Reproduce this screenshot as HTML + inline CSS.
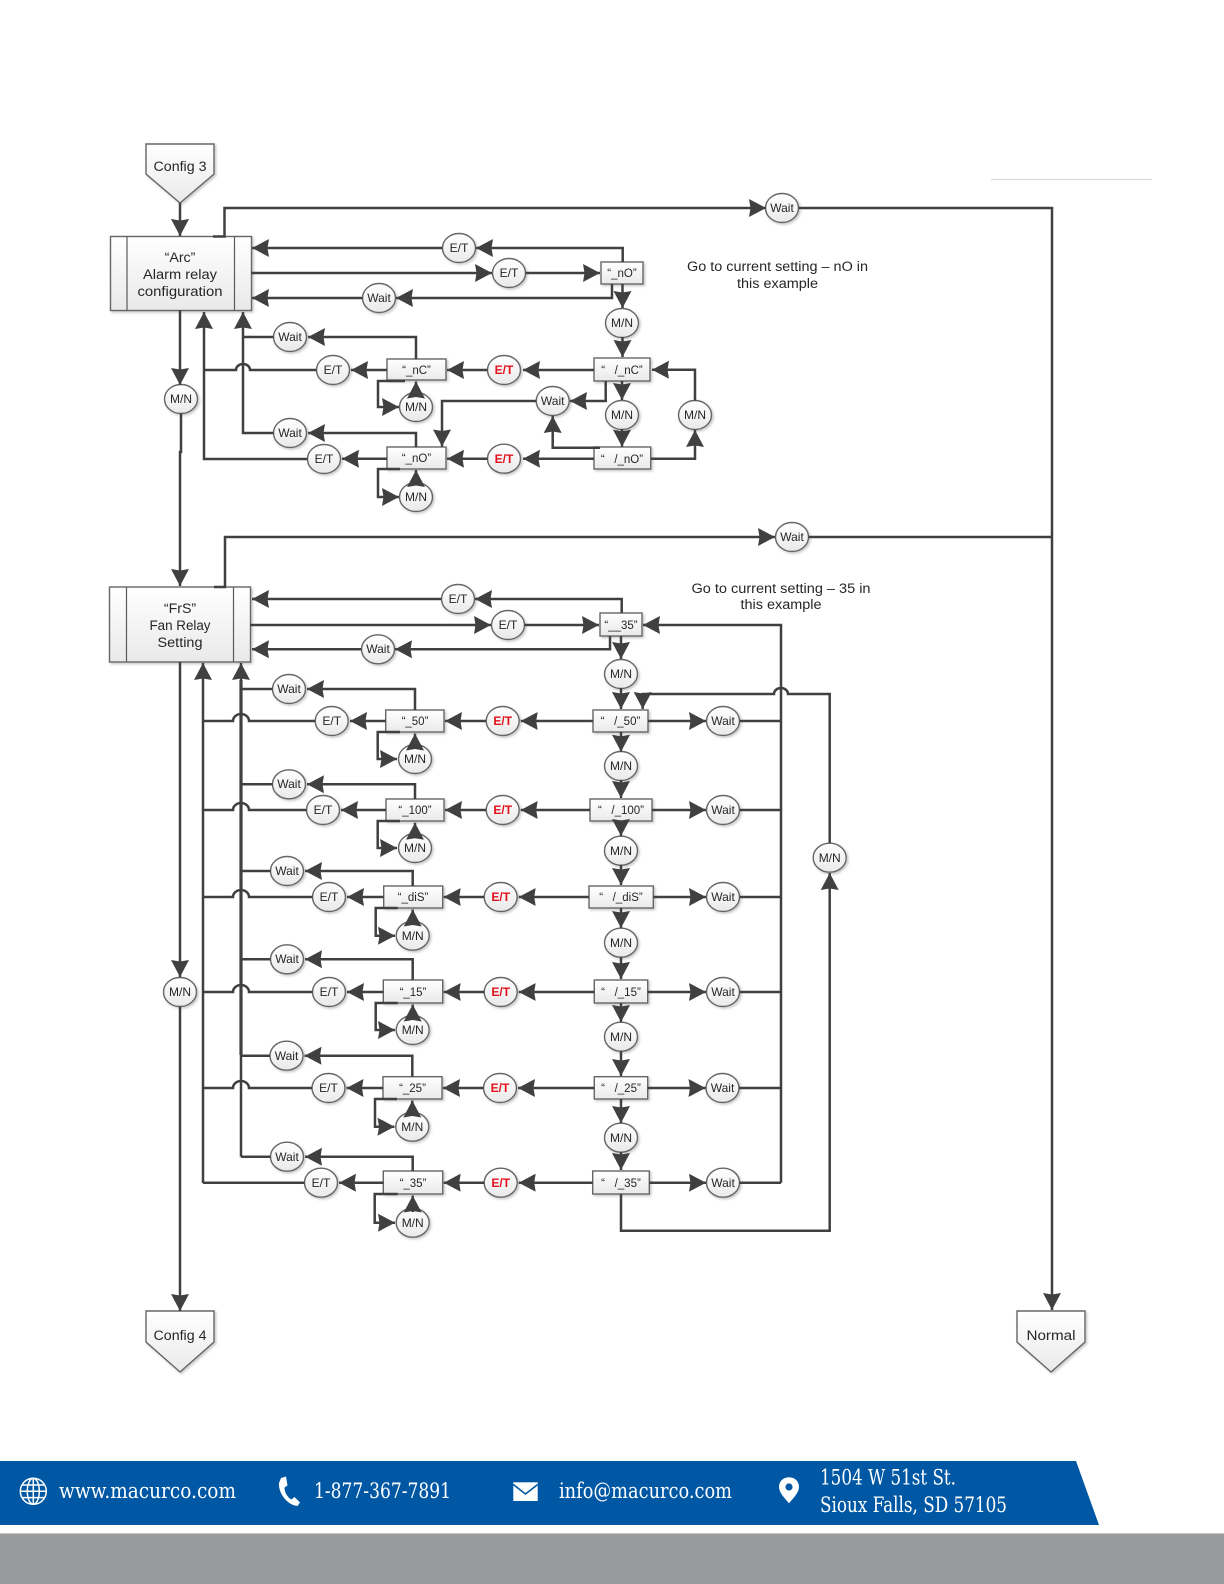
<!DOCTYPE html>
<html lang="en"><head><meta charset="utf-8"><title>Relay configuration flow</title>
<style>
html,body{margin:0;padding:0;background:#fff}
svg{display:block}
text{font-family:"Liberation Sans",sans-serif;text-anchor:middle;fill:#262626;white-space:pre}
.l{fill:none;stroke:#404040;stroke-width:2.5}
.a{marker-end:url(#h)}
.n{fill:url(#g);stroke:#666;stroke-width:1.4}
.s{filter:url(#sh)}
.t{font-size:12px}
.r{font-size:12px;font-weight:bold;fill:#e2111b}
.b{font-size:11.5px}
.m{font-size:14.2px}
.f{font-family:"DejaVu Serif","Liberation Serif",serif;font-size:21px;fill:#fff;text-anchor:start}
</style></head><body>
<svg xmlns="http://www.w3.org/2000/svg" width="1224" height="1584" viewBox="0 0 1224 1584">
<defs>
<linearGradient id="g" x1="0" y1="0" x2="0" y2="1"><stop offset="0" stop-color="#fff"/><stop offset="1" stop-color="#e9e9e9"/></linearGradient>
<filter id="sh" x="-20%" y="-20%" width="150%" height="150%"><feDropShadow dx="1.5" dy="1.5" stdDeviation="1.2" flood-color="#000" flood-opacity=".22"/></filter>
<marker id="h" markerUnits="userSpaceOnUse" markerWidth="18" markerHeight="20" refX="17" refY="9.5" orient="auto"><path d="M0 0.5L17 9.5L0 18.5L1.500 9.5Z" fill="#404040"/></marker>
</defs>
<rect width="1224" height="1584" fill="#fff"/>
<path d="M991 179.5H1152" stroke="#dcdcdc" stroke-width="1.2"/>

<!-- terminals and process boxes -->
<g class="s">
<polygon class="n" points="146,144 214,144 214,174 180,203 146,174"/>
<polygon class="n" points="146,1311 214,1311 214,1342 180,1372 146,1342"/>
<polygon class="n" points="1017,1311 1085,1311 1085,1342 1051,1372 1017,1342"/>
<rect class="n" x="110.5" y="236.5" width="141" height="74"/>
<rect class="n" x="109.5" y="587" width="141" height="75"/>
<rect class="n" x="601" y="262" width="42" height="22"/>
<rect class="n" x="594" y="358" width="56" height="23"/>
<rect class="n" x="594" y="447" width="56.7" height="22"/>
<rect class="n" x="387" y="359" width="59" height="21"/>
<rect class="n" x="387" y="447" width="59" height="22"/>
<rect class="n" x="600" y="613" width="42" height="23"/>
<rect class="n" x="593" y="710" width="55" height="22"/>
<rect class="n" x="590" y="799" width="62" height="22"/>
<rect class="n" x="589" y="886" width="64.3" height="22"/>
<rect class="n" x="594.3" y="980" width="53.4" height="23"/>
<rect class="n" x="594.3" y="1076.7" width="53.4" height="22.3"/>
<rect class="n" x="592.7" y="1171" width="56.6" height="23"/>
<rect class="n" x="385.7" y="710" width="58.3" height="22"/>
<rect class="n" x="386" y="799" width="58" height="22"/>
<rect class="n" x="383.7" y="886" width="59" height="22"/>
<rect class="n" x="383.3" y="980" width="59.4" height="23"/>
<rect class="n" x="383" y="1076.7" width="59" height="22.3"/>
<rect class="n" x="383.3" y="1171" width="59.4" height="23"/>
</g>
<path d="M127 236.5V310.5M234.5 236.5V310.5M126.5 587V662M233.5 587V662" stroke="#5a5a5a" stroke-width="1.2"/>

<!-- circles -->
<g class="s">
<ellipse class="n" cx="782" cy="208" rx="16.5" ry="14.5"/>
<ellipse class="n" cx="459" cy="248" rx="16.5" ry="14.5"/>
<ellipse class="n" cx="509" cy="273" rx="16.5" ry="14.5"/>
<ellipse class="n" cx="379" cy="298" rx="16.5" ry="14.5"/>
<ellipse class="n" cx="622" cy="323" rx="16.5" ry="14.5"/>
<ellipse class="n" cx="290" cy="337" rx="16.5" ry="14.5"/>
<ellipse class="n" cx="333" cy="370" rx="16.5" ry="14.5"/>
<ellipse class="n" cx="504" cy="370" rx="16.5" ry="14.5"/>
<ellipse class="n" cx="181" cy="399" rx="16.5" ry="14.5"/>
<ellipse class="n" cx="552.7" cy="401" rx="16.5" ry="14.5"/>
<ellipse class="n" cx="416" cy="407" rx="16.5" ry="14.5"/>
<ellipse class="n" cx="622" cy="415" rx="16.5" ry="14.5"/>
<ellipse class="n" cx="695" cy="415" rx="16.5" ry="14.5"/>
<ellipse class="n" cx="290" cy="433" rx="16.5" ry="14.5"/>
<ellipse class="n" cx="324" cy="459" rx="16.5" ry="14.5"/>
<ellipse class="n" cx="504" cy="458.7" rx="16.5" ry="14.5"/>
<ellipse class="n" cx="416" cy="497" rx="16.5" ry="14.5"/>
<ellipse class="n" cx="792" cy="537" rx="16.5" ry="14.5"/>
<ellipse class="n" cx="458" cy="599" rx="16.5" ry="14.5"/>
<ellipse class="n" cx="508" cy="625" rx="16.5" ry="14.5"/>
<ellipse class="n" cx="378" cy="649.3" rx="16.5" ry="14.5"/>
<ellipse class="n" cx="621" cy="674" rx="16.5" ry="14.5"/>
<ellipse class="n" cx="289" cy="689" rx="16.5" ry="14.5"/>
<ellipse class="n" cx="331.7" cy="721" rx="16.5" ry="14.5"/>
<ellipse class="n" cx="502.7" cy="721" rx="16.5" ry="14.5"/>
<ellipse class="n" cx="723" cy="721" rx="16.5" ry="14.5"/>
<ellipse class="n" cx="415" cy="759" rx="16.5" ry="14.5"/>
<ellipse class="n" cx="621" cy="766" rx="16.5" ry="14.5"/>
<ellipse class="n" cx="289" cy="784.3" rx="16.5" ry="14.5"/>
<ellipse class="n" cx="323" cy="810" rx="16.5" ry="14.5"/>
<ellipse class="n" cx="502.7" cy="810" rx="16.5" ry="14.5"/>
<ellipse class="n" cx="723" cy="810" rx="16.5" ry="14.5"/>
<ellipse class="n" cx="415" cy="848" rx="16.5" ry="14.5"/>
<ellipse class="n" cx="621" cy="850.7" rx="16.5" ry="14.5"/>
<ellipse class="n" cx="829.7" cy="857.7" rx="16.5" ry="14.5"/>
<ellipse class="n" cx="287" cy="871" rx="16.5" ry="14.5"/>
<ellipse class="n" cx="329" cy="897" rx="16.5" ry="14.5"/>
<ellipse class="n" cx="500.7" cy="897" rx="16.5" ry="14.5"/>
<ellipse class="n" cx="723" cy="897" rx="16.5" ry="14.5"/>
<ellipse class="n" cx="412.7" cy="935.7" rx="16.5" ry="14.5"/>
<ellipse class="n" cx="621" cy="942.7" rx="16.5" ry="14.5"/>
<ellipse class="n" cx="287" cy="959.3" rx="16.5" ry="14.5"/>
<ellipse class="n" cx="180" cy="992" rx="16.5" ry="14.5"/>
<ellipse class="n" cx="329" cy="992" rx="16.5" ry="14.5"/>
<ellipse class="n" cx="500.7" cy="992" rx="16.5" ry="14.5"/>
<ellipse class="n" cx="723" cy="992" rx="16.5" ry="14.5"/>
<ellipse class="n" cx="412.7" cy="1030" rx="16.5" ry="14.5"/>
<ellipse class="n" cx="621" cy="1036.7" rx="16.5" ry="14.5"/>
<ellipse class="n" cx="286.5" cy="1055.7" rx="16.5" ry="14.5"/>
<ellipse class="n" cx="328.5" cy="1088" rx="16.5" ry="14.5"/>
<ellipse class="n" cx="500" cy="1088" rx="16.5" ry="14.5"/>
<ellipse class="n" cx="722.5" cy="1088" rx="16.5" ry="14.5"/>
<ellipse class="n" cx="412.3" cy="1126.7" rx="16.5" ry="14.5"/>
<ellipse class="n" cx="621" cy="1137.7" rx="16.5" ry="14.5"/>
<ellipse class="n" cx="287" cy="1156.7" rx="16.5" ry="14.5"/>
<ellipse class="n" cx="321" cy="1182.7" rx="16.5" ry="14.5"/>
<ellipse class="n" cx="500.7" cy="1182.7" rx="16.5" ry="14.5"/>
<ellipse class="n" cx="723" cy="1182.7" rx="16.5" ry="14.5"/>
<ellipse class="n" cx="412.7" cy="1222.7" rx="16.5" ry="14.5"/>
</g>

<!-- connectors: alarm relay section -->
<path class="l a" d="M180 203V236"/>
<path class="l a" d="M213 236.5H224.5V208H766"/>
<path class="l a" d="M798.5 208H1052V1310"/>
<path class="l a" d="M442.5 248H252"/>
<path class="l a" d="M622.7 262V248H476"/>
<path class="l a" d="M251 273H492"/>
<path class="l a" d="M525.5 273H600"/>
<path class="l a" d="M612 284V298H396"/>
<path class="l a" d="M362.5 298H252"/>
<path class="l a" d="M622.5 284V308"/>
<path class="l a" d="M622.5 337V357"/>
<path class="l a" d="M594 370H523"/>
<path class="l a" d="M487.5 370H447"/>
<path class="l a" d="M387 370H351"/>
<path class="l" d="M316.5 370H250a7 6 0 0 0-14 0H204"/>
<path class="l" d="M273.5 337H243"/>
<path class="l a" d="M273.5 433H243V312"/>
<path class="l a" d="M416 359V337H308"/>
<path class="l a" d="M416 447V433H308"/>
<path class="l a" d="M387 458.7H342"/>
<path class="l a" d="M307.5 459H204V312"/>
<path class="l a" d="M405 381H378V407H399"/>
<path class="l a" d="M416 396V381.5"/>
<path class="l a" d="M400 469H378V497H399"/>
<path class="l a" d="M416 485V470"/>
<path class="l a" d="M180 310V385"/>
<path class="l a" d="M181 413.5V452H180V586"/>
<path class="l a" d="M536.2 401H442V446.5"/>
<path class="l a" d="M605.7 381V401H570"/>
<path class="l a" d="M600 447.7H552.7V416"/>
<path class="l a" d="M622 381V400"/>
<path class="l a" d="M622 429V446.7"/>
<path class="l a" d="M651 458.7H695V430"/>
<path class="l a" d="M695 400.5V369.7H652"/>
<path class="l a" d="M594 458.7H523"/>
<path class="l a" d="M487.5 458.7H447"/>

<!-- connectors: fan relay section -->
<path class="l a" d="M214 587H225V537H775"/>
<path class="l" d="M808.5 537H1052"/>
<path class="l a" d="M441.5 599H252"/>
<path class="l a" d="M621.7 613V599H475"/>
<path class="l a" d="M250 625H491"/>
<path class="l a" d="M524.5 625H599"/>
<path class="l a" d="M610 636V649.3H395"/>
<path class="l a" d="M361.5 649.3H252"/>
<path class="l a" d="M781 1182.7V625H643"/>
<path class="l a" d="M829.7 843V694H788a7 6 0 0 0-14 0H642.7V709"/>
<path class="l a" d="M621 1194V1230.7H829.7V873"/>
<path class="l a" d="M180 662V977"/>
<path class="l a" d="M180 1006.5V1311"/>
<path class="l" d="M304.5 1182.7H203"/>
<path class="l a" d="M203 1183V663"/>
<path class="l a" d="M241 1156.7V663"/>
<path class="l" d="M241 1055V680" style="stroke-width:3.2"/>

<path class="l a" d="M621 636V659"/><path class="l a" d="M621 688V709"/>
<path class="l a" d="M621 732V751.7"/><path class="l a" d="M621 780V798"/>
<path class="l a" d="M621 821V836"/><path class="l a" d="M621 865V885"/>
<path class="l a" d="M621 908V928"/><path class="l a" d="M621 957V979"/>
<path class="l a" d="M621 1003V1022"/><path class="l a" d="M621 1051V1076"/>
<path class="l a" d="M621 1099V1123"/><path class="l a" d="M621 1152V1170"/>

<!-- row 50 -->
<path class="l a" d="M593 721H520.7"/><path class="l a" d="M486.2 721H445"/><path class="l a" d="M385.7 721H350"/>
<path class="l" d="M315.2 721H249a8 7 0 0 0-16 0H203"/>
<path class="l a" d="M415 710V689H307"/><path class="l" d="M272.5 689H241"/>
<path class="l a" d="M400 732H377.7V759H397"/><path class="l a" d="M415 748V733.5"/>
<path class="l a" d="M648 721H706"/><path class="l" d="M739.5 721H781"/>
<!-- row 100 -->
<path class="l a" d="M590 810H520.7"/><path class="l a" d="M486.2 810H445"/><path class="l a" d="M386 810H341"/>
<path class="l" d="M306.5 810H249a8 7 0 0 0-16 0H203"/>
<path class="l a" d="M415 799V784.3H307"/><path class="l" d="M272.5 784.3H241"/>
<path class="l a" d="M400 821H377.7V848H397"/><path class="l a" d="M415 837V822.7"/>
<path class="l a" d="M652 810H706"/><path class="l" d="M739.5 810H781"/>
<!-- row diS -->
<path class="l a" d="M589 897H518.7"/><path class="l a" d="M484.2 897H443.7"/><path class="l a" d="M383.7 897H347"/>
<path class="l" d="M312.5 897H249a8 7 0 0 0-16 0H203"/>
<path class="l a" d="M412.7 886V871H305"/><path class="l" d="M270.5 871H241"/>
<path class="l a" d="M397.7 908H375.7V935.7H395"/><path class="l a" d="M412.7 924V909.5"/>
<path class="l a" d="M653.3 897H706"/><path class="l" d="M739.5 897H781"/>
<!-- row 15 -->
<path class="l a" d="M594.3 992H518.7"/><path class="l a" d="M484.2 992H443.7"/><path class="l a" d="M383.3 992H347"/>
<path class="l" d="M312.5 992H249a8 7 0 0 0-16 0H203"/>
<path class="l a" d="M412.7 980V959.3H305"/><path class="l" d="M270.5 959.3H241"/>
<path class="l a" d="M397.7 1003H375.7V1030H395"/><path class="l a" d="M412.7 1019V1004.5"/>
<path class="l a" d="M647.7 992H706"/><path class="l" d="M739.5 992H781"/>
<!-- row 25 -->
<path class="l a" d="M594.3 1088H518"/><path class="l a" d="M483.5 1088H443"/><path class="l a" d="M383 1088H346.5"/>
<path class="l" d="M312 1088H249a8 7 0 0 0-16 0H203"/>
<path class="l a" d="M412.3 1076.7V1055.7H304.5"/><path class="l" d="M270 1055.7H241"/>
<path class="l a" d="M397 1099H375V1126.7H394.5"/><path class="l a" d="M412.3 1115V1100.5"/>
<path class="l a" d="M647.7 1088H705.5"/><path class="l" d="M739 1088H781"/>
<!-- row 35 -->
<path class="l a" d="M592.7 1182.7H518.7"/><path class="l a" d="M484.2 1182.7H443.7"/><path class="l a" d="M383.3 1182.7H339"/>
<path class="l a" d="M412.7 1171V1156.7H305"/><path class="l" d="M270.5 1156.7H241"/>
<path class="l a" d="M397.7 1194H374.7V1222.7H395"/><path class="l a" d="M412.7 1212V1195.5"/>
<path class="l a" d="M649.3 1182.7H706"/><path class="l" d="M739.5 1182.7H781"/>

<!-- node labels -->
<text class="m" x="180" y="171" textLength="53" lengthAdjust="spacingAndGlyphs">Config 3</text>
<text class="m" x="180" y="1340" textLength="53" lengthAdjust="spacingAndGlyphs">Config 4</text>
<text class="m" x="1051" y="1340" textLength="49" lengthAdjust="spacingAndGlyphs">Normal</text>
<text class="m" x="180" y="262">“Arc”</text>
<text class="m" x="180" y="279" textLength="74" lengthAdjust="spacingAndGlyphs">Alarm relay</text>
<text class="m" x="180" y="296" textLength="85" lengthAdjust="spacingAndGlyphs">configuration</text>
<text class="m" x="180" y="613">“FrS”</text>
<text class="m" x="180" y="630" textLength="61" lengthAdjust="spacingAndGlyphs">Fan Relay</text>
<text class="m" x="180" y="647" textLength="45" lengthAdjust="spacingAndGlyphs">Setting</text>
<text class="m" x="777.5" y="271" textLength="181" lengthAdjust="spacingAndGlyphs">Go to current setting – nO in</text>
<text class="m" x="777.5" y="288" textLength="81" lengthAdjust="spacingAndGlyphs">this example</text>
<text class="m" x="781" y="593" textLength="179" lengthAdjust="spacingAndGlyphs">Go to current setting – 35 in</text>
<text class="m" x="781" y="609" textLength="81" lengthAdjust="spacingAndGlyphs">this example</text>

<text class="b" x="622" y="277">“_nO”</text>
<text class="b" x="622" y="374">“   /_nC”</text>
<text class="b" x="622" y="463">“   /_nO”</text>
<text class="b" x="416.5" y="374">“_nC”</text>
<text class="b" x="416.5" y="462">“_nO”</text>
<text class="b" x="621" y="629">“__35”</text>
<text class="b" x="620.5" y="725">“   /_50”</text>
<text class="b" x="621" y="814">“   /_100”</text>
<text class="b" x="621" y="901">“   /_diS”</text>
<text class="b" x="621" y="996">“   /_15”</text>
<text class="b" x="621" y="1092">“   /_25”</text>
<text class="b" x="621" y="1187">“   /_35”</text>
<text class="b" x="415" y="725">“_50”</text>
<text class="b" x="415" y="814">“_100”</text>
<text class="b" x="413" y="901">“_diS”</text>
<text class="b" x="413" y="996">“_15”</text>
<text class="b" x="412.5" y="1092">“_25”</text>
<text class="b" x="413" y="1187">“_35”</text>

<text class="t" x="782" y="212">Wait</text>
<text class="t" x="459" y="252">E/T</text>
<text class="t" x="509" y="277">E/T</text>
<text class="t" x="379" y="302">Wait</text>
<text class="t" x="622" y="327">M/N</text>
<text class="t" x="290" y="341">Wait</text>
<text class="t" x="333" y="374">E/T</text>
<text class="r" x="504" y="374">E/T</text>
<text class="t" x="181" y="403">M/N</text>
<text class="t" x="552.7" y="405">Wait</text>
<text class="t" x="416" y="411">M/N</text>
<text class="t" x="622" y="419">M/N</text>
<text class="t" x="695" y="419">M/N</text>
<text class="t" x="290" y="437">Wait</text>
<text class="t" x="324" y="463">E/T</text>
<text class="r" x="504" y="463">E/T</text>
<text class="t" x="416" y="501">M/N</text>
<text class="t" x="792" y="541">Wait</text>
<text class="t" x="458" y="603">E/T</text>
<text class="t" x="508" y="629">E/T</text>
<text class="t" x="378" y="653">Wait</text>
<text class="t" x="621" y="678">M/N</text>
<text class="t" x="289" y="693">Wait</text>
<text class="t" x="331.7" y="725">E/T</text>
<text class="r" x="502.7" y="725">E/T</text>
<text class="t" x="723" y="725">Wait</text>
<text class="t" x="415" y="763">M/N</text>
<text class="t" x="621" y="770">M/N</text>
<text class="t" x="289" y="788">Wait</text>
<text class="t" x="323" y="814">E/T</text>
<text class="r" x="502.7" y="814">E/T</text>
<text class="t" x="723" y="814">Wait</text>
<text class="t" x="415" y="852">M/N</text>
<text class="t" x="621" y="855">M/N</text>
<text class="t" x="829.7" y="862">M/N</text>
<text class="t" x="287" y="875">Wait</text>
<text class="t" x="329" y="901">E/T</text>
<text class="r" x="500.7" y="901">E/T</text>
<text class="t" x="723" y="901">Wait</text>
<text class="t" x="412.7" y="940">M/N</text>
<text class="t" x="621" y="947">M/N</text>
<text class="t" x="287" y="963">Wait</text>
<text class="t" x="180" y="996">M/N</text>
<text class="t" x="329" y="996">E/T</text>
<text class="r" x="500.7" y="996">E/T</text>
<text class="t" x="723" y="996">Wait</text>
<text class="t" x="412.7" y="1034">M/N</text>
<text class="t" x="621" y="1041">M/N</text>
<text class="t" x="286.5" y="1060">Wait</text>
<text class="t" x="328.5" y="1092">E/T</text>
<text class="r" x="500" y="1092">E/T</text>
<text class="t" x="722.5" y="1092">Wait</text>
<text class="t" x="412.3" y="1131">M/N</text>
<text class="t" x="621" y="1142">M/N</text>
<text class="t" x="287" y="1161">Wait</text>
<text class="t" x="321" y="1187">E/T</text>
<text class="r" x="500.7" y="1187">E/T</text>
<text class="t" x="723" y="1187">Wait</text>
<text class="t" x="412.7" y="1227">M/N</text>

<!-- footer -->
<polygon points="0,1461 1076,1461 1099,1525 0,1525" fill="#0058a4"/>
<rect x="0" y="1533" width="1224" height="1.5" fill="#c9c9c9"/>
<rect x="0" y="1534" width="1224" height="50" fill="#999a9c"/>
<g fill="none" stroke="#fff" stroke-width="1.5">
<circle cx="33.3" cy="1491.3" r="13"/>
<ellipse cx="33.3" cy="1491.3" rx="6" ry="13"/>
<path d="M33.3 1478.3V1504.3M20.3 1491.3H46.3M22 1485H44.6M22 1497.6H44.6"/>
</g>
<path d="M281 1478l5-1.5 1.5 9-3 2c0 5 3 10 7 12l3-2.5 5.500 5.500-2.500 3.500c-11-1-19.500-14-18.500-23z" fill="#fff"/>
<rect x="513.300" y="1482.300" width="24.400" height="18.700" fill="#fff"/>
<path d="M513.300 1484.500L525.500 1494L537.700 1484.500" fill="none" stroke="#0058a4" stroke-width="1.600"/>
<path d="M789 1477.300c5.800 0 10 4.200 10 9.700 0 5.500-5.500 11-10 16.300-4.500-5.300-10-10.800-10-16.300 0-5.500 4.200-9.700 10-9.700z" fill="#fff"/>
<circle cx="789" cy="1487" r="3.600" fill="#0058a4"/>
<text class="f" x="59" y="1498" textLength="177" lengthAdjust="spacingAndGlyphs">www.macurco.com</text>
<text class="f" x="314" y="1498" textLength="137" lengthAdjust="spacingAndGlyphs">1-877-367-7891</text>
<text class="f" x="559" y="1498" textLength="173" lengthAdjust="spacingAndGlyphs">info@macurco.com</text>
<text class="f" x="820" y="1484.500" textLength="136" lengthAdjust="spacingAndGlyphs">1504 W 51st St.</text>
<text class="f" x="820" y="1512" textLength="187" lengthAdjust="spacingAndGlyphs">Sioux Falls, SD 57105</text>
</svg>
</body></html>
